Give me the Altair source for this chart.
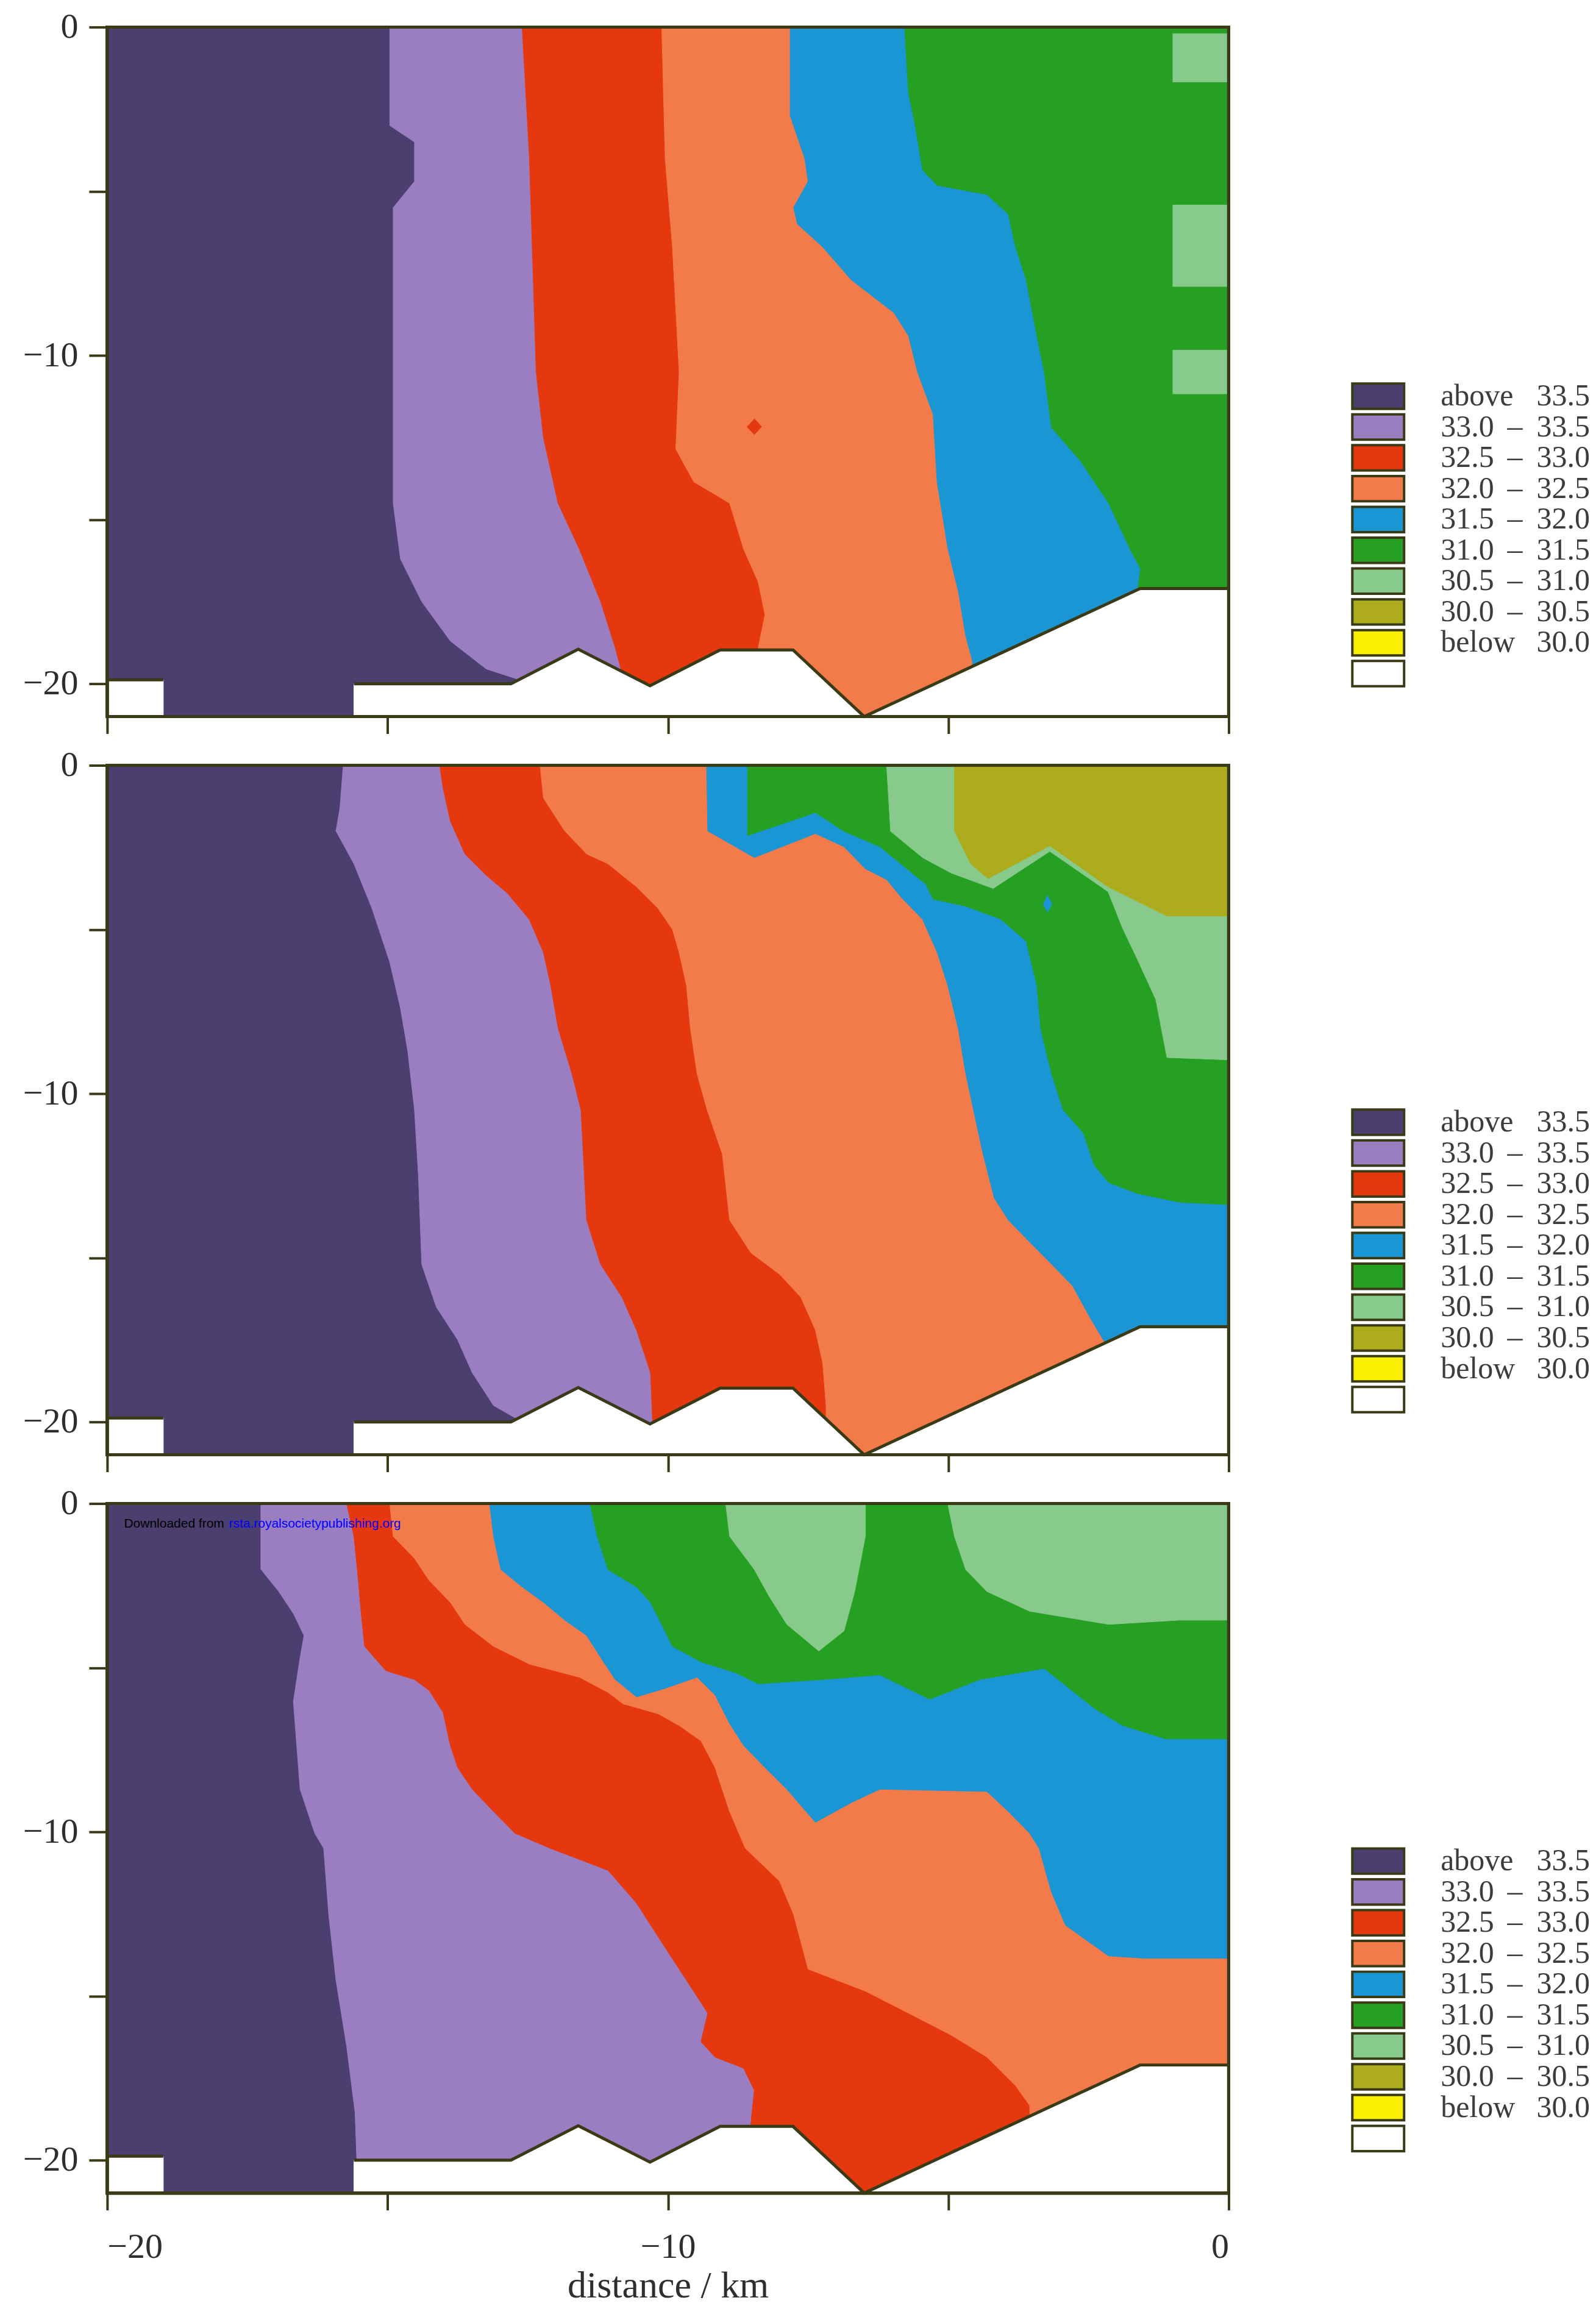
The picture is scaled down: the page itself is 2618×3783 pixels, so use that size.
import altair as alt
import pandas as pd

# ---------------- data ----------------
X_DOMAIN = [-20, 0]
Y_DOMAIN = [-21, 0]
X_TICKS = [-20, -15, -10, -5, 0]
Y_TICKS = [0, -5, -10, -15, -20]

LEG_LEFT = ["above", "33.0", "32.5", "32.0", "31.5", "31.0", "30.5", "30.0", "below", ""]
LEG_DASH = ["", "–", "–", "–", "–", "–", "–", "–", "", ""]
LEG_RIGHT = ["33.5", "33.5", "33.0", "32.5", "32.0", "31.5", "31.0", "30.5", "30.0", ""]

# zone boundaries (x km, depth) from the surface downwards
P1_A = [(-14.96, 0), (-14.96, -3.0), (-14.52, -3.5), (-14.52, -4.7), (-14.9, -5.5), (-14.9, -14.5),
        (-14.77, -16.2), (-14.39, -17.5), (-13.88, -18.7), (-13.24, -19.55), (-12.7, -19.85), (-12.7, -21)]
P1_B = [(-12.6, 0), (-12.47, -4.0), (-12.35, -10.5), (-12.22, -12.5), (-11.96, -14.5), (-11.58, -15.9),
        (-11.2, -17.5), (-10.94, -18.9), (-10.8, -19.8), (-10.8, -21)]
P1_C = [(-10.11, 0), (-10.05, -4.0), (-9.92, -6.7), (-9.8, -10.5), (-9.86, -12.85), (-9.54, -13.85),
        (-8.9, -14.5), (-8.65, -15.9), (-8.39, -16.9), (-8.27, -17.9), (-8.39, -18.9), (-8.39, -21)]
P1_D = [(-7.82, 0), (-7.82, -2.7), (-7.56, -4.0), (-7.5, -4.7), (-7.76, -5.5), (-7.69, -6.0), (-7.24, -6.7),
        (-6.73, -7.7), (-5.97, -8.7), (-5.71, -9.4), (-5.55, -10.5), (-5.27, -11.8), (-5.2, -13.85),
        (-5.01, -15.86), (-4.82, -17.2), (-4.69, -18.54), (-4.57, -19.3), (-4.57, -21)]
P1_E = [(-5.78, 0), (-5.71, -2.0), (-5.59, -3.0), (-5.46, -4.35), (-5.2, -4.82), (-4.31, -5.1), (-3.93, -5.7),
        (-3.8, -6.7), (-3.61, -7.7), (-3.42, -9.4), (-3.29, -10.5), (-3.16, -12.2), (-2.65, -13.2),
        (-2.14, -14.5), (-1.76, -15.9), (-1.57, -16.5), (-1.63, -17.2), (-1.63, -21)]
P1_L1 = [(-1.0, -0.2), (0, -0.2), (0, -1.67), (-1.0, -1.67)]
P1_L2 = [(-1.0, -5.42), (0, -5.42), (0, -7.9), (-1.0, -7.9)]
P1_L3 = [(-1.0, -9.84), (0, -9.84), (0, -11.17), (-1.0, -11.17)]
P1_DOT = [(-8.46, -11.93), (-8.33, -12.17), (-8.46, -12.41), (-8.59, -12.17)]

P2_A = [(-15.79, 0), (-15.85, -1.3), (-15.92, -2.0), (-15.6, -3.0), (-15.28, -4.35), (-14.96, -6.0),
        (-14.77, -7.4), (-14.64, -8.7), (-14.52, -10.5), (-14.45, -12.5), (-14.39, -15.2), (-14.13, -16.5),
        (-13.75, -17.5), (-13.49, -18.5), (-13.11, -19.5), (-12.7, -19.9), (-12.7, -21)]
P2_B = [(-14.07, 0), (-14.01, -0.7), (-13.88, -1.7), (-13.62, -2.7), (-13.24, -3.35), (-12.86, -3.9),
        (-12.47, -4.7), (-12.22, -5.7), (-12.09, -6.7), (-11.96, -8.0), (-11.71, -9.4), (-11.55, -10.5),
        (-11.45, -13.85), (-11.2, -15.2), (-10.82, -16.2), (-10.56, -17.2), (-10.31, -18.5), (-10.25, -21)]
P2_C = [(-12.28, 0), (-12.22, -1.0), (-11.84, -2.0), (-11.45, -2.7), (-11.07, -3.0), (-10.56, -3.7),
        (-10.18, -4.35), (-9.92, -5.0), (-9.8, -5.7), (-9.67, -6.7), (-9.6, -8.0), (-9.48, -9.4), (-9.3, -10.5),
        (-9.03, -11.84), (-8.9, -13.85), (-8.52, -14.85), (-8.01, -15.5), (-7.63, -16.2), (-7.37, -17.2),
        (-7.24, -18.2), (-7.18, -19.5), (-7.18, -21)]
P2_D = [(-9.31, 0), (-9.29, -2.0), (-8.46, -2.81), (-7.37, -2.08), (-6.86, -2.48), (-6.48, -3.15),
        (-6.1, -3.48), (-5.84, -4.02), (-5.46, -4.69), (-5.2, -5.69), (-5.01, -6.7), (-4.82, -8.04),
        (-4.69, -9.38), (-4.55, -10.5), (-4.38, -11.84), (-4.18, -13.18), (-3.93, -13.85), (-3.55, -14.52),
        (-3.16, -15.19), (-2.78, -15.86), (-2.46, -16.86), (-2.2, -17.6), (-2.2, -21)]
P2_E = [(-8.58, 0), (-8.58, -2.14), (-7.37, -1.44), (-6.86, -2.01), (-6.22, -2.48), (-5.84, -3.01),
        (-5.4, -3.62), (-5.27, -4.08), (-4.69, -4.29), (-4.06, -4.69), (-3.61, -5.36), (-3.42, -6.7),
        (-3.35, -8.04), (-3.16, -9.38), (-2.95, -10.5), (-2.59, -11.2), (-2.4, -12.17), (-2.14, -12.71),
        (-1.63, -13.04), (-0.87, -13.31), (0, -13.38)]
P2_F = [(-6.1, 0), (-6.03, -2.01), (-5.46, -2.81), (-4.95, -3.28), (-4.2, -3.75), (-3.19, -2.62),
        (-2.15, -3.85), (-1.89, -4.97), (-1.63, -5.9), (-1.3, -7.13), (-1.1, -8.9), (0, -8.97)]
P2_G = [(-4.89, 0), (-4.89, -2.0), (-4.6, -3.0), (-4.29, -3.45), (-3.19, -2.45), (-2.15, -3.7),
        (-1.1, -4.59), (0, -4.59)]
P2_DOT = [(-3.23, -3.97), (-3.15, -4.22), (-3.23, -4.47), (-3.31, -4.22)]

P3_A = [(-17.26, 0), (-17.26, -2.0), (-16.94, -2.68), (-16.68, -3.35), (-16.49, -4.02), (-16.56, -4.69),
        (-16.68, -6.03), (-16.62, -7.37), (-16.56, -8.7), (-16.3, -10.04), (-16.14, -10.5), (-16.05, -12.51),
        (-15.92, -14.52), (-15.73, -16.53), (-15.58, -18.54), (-15.55, -19.95), (-15.55, -21)]
P3_B = [(-15.73, 0), (-15.6, -1.0), (-15.54, -2.01), (-15.47, -3.35), (-15.41, -4.35), (-15.03, -5.09),
        (-14.52, -5.36), (-14.26, -5.69), (-14.01, -6.36), (-13.88, -7.37), (-13.75, -8.04), (-13.49, -8.7),
        (-13.11, -9.38), (-12.73, -10.04), (-12.1, -10.5), (-11.07, -11.17), (-10.56, -12.17), (-10.18, -13.18),
        (-9.67, -14.52), (-9.29, -15.52), (-9.41, -16.39), (-9.16, -16.86), (-8.65, -17.2), (-8.46, -17.87),
        (-8.52, -18.87), (-8.52, -21)]
P3_C = [(-14.96, 0), (-14.9, -1.0), (-14.52, -1.67), (-14.26, -2.34), (-13.88, -3.01), (-13.62, -3.68),
        (-13.11, -4.35), (-12.47, -4.89), (-11.58, -5.29), (-11.07, -5.75), (-10.8, -6.1), (-10.18, -6.4),
        (-9.8, -6.76), (-9.41, -7.23), (-9.16, -8.04), (-8.9, -9.38), (-8.62, -10.5), (-8.01, -11.5),
        (-7.76, -12.51), (-7.5, -14.18), (-6.48, -14.85), (-5.71, -15.52), (-4.95, -16.19), (-4.31, -16.86),
        (-3.8, -17.73), (-3.55, -18.33), (-3.5, -21)]
P3_D = [(-13.18, 0), (-13.11, -1.0), (-12.98, -2.01), (-12.6, -2.54), (-12.22, -3.01), (-11.84, -3.55),
        (-11.45, -4.02), (-11.2, -4.69), (-10.94, -5.36), (-10.56, -5.89), (-10.05, -5.63), (-9.48, -5.29),
        (-9.16, -5.83), (-8.9, -6.7), (-8.65, -7.37), (-8.27, -8.04), (-7.88, -8.7), (-7.37, -9.71),
        (-6.73, -9.11), (-6.22, -8.7), (-4.31, -8.77), (-3.93, -9.38), (-3.55, -10.04), (-3.38, -10.5),
        (-3.16, -11.84), (-2.91, -12.84), (-2.53, -13.31), (-2.14, -13.78), (-1.5, -13.85), (0, -13.85)]
P3_E = [(-11.39, 0), (-11.26, -1.0), (-11.07, -2.01), (-10.56, -2.54), (-10.31, -3.01), (-10.11, -3.68),
        (-9.92, -4.35), (-9.41, -4.82), (-8.78, -5.16), (-8.39, -5.49), (-7.24, -5.36), (-6.22, -5.22),
        (-5.33, -5.96), (-4.44, -5.36), (-3.29, -5.02), (-2.4, -6.23), (-1.89, -6.76), (-1.12, -7.17), (0, -7.17)]
P3_L1 = [(-8.97, 0), (-8.9, -1.0), (-8.46, -2.01), (-8.2, -2.81), (-7.88, -3.68), (-7.31, -4.49),
         (-6.86, -3.88), (-6.67, -2.68), (-6.48, -1.0), (-6.48, 0)]
P3_L2 = [(-5.01, 0), (-4.89, -1.0), (-4.69, -2.01), (-4.31, -2.68), (-3.55, -3.28), (-2.14, -3.68),
         (-0.87, -3.55), (0, -3.55)]

# sea bed (same in every section)
BATH = [(-15.6, -21), (-15.6, -20.0), (-12.8, -20.0), (-11.6, -18.95), (-10.32, -20.06), (-9.07, -18.97),
        (-7.77, -18.97), (-6.5, -21), (-1.58, -17.1), (0, -17.1), (0, -21)]
BATH_SMALL = [(-20, -19.88), (-19.0, -19.88), (-19.0, -21), (-20, -21)]

WM_X = [-19.7, -17.83]
WM_Y = [-0.63, -0.63]
WM_TEXT = ["Downloaded from", "rsta.royalsocietypublishing.org"]

# ---------------- styling ----------------
ZONE_COLORS = ["#4b3f6f", "#9b7ec2", "#e5380e", "#f27b49", "#1b96d4", "#26a023",
               "#88c98c", "#adac1d", "#f8f000", "#ffffff"]
FRAME = "#3b3a17"
SERIF = "Liberation Serif"
TXT = "#2e2e2e"
W, H = 1841, 1132
ROW_PITCH = 50.6
LEGEND_ROW0 = {1: 606, 2: 586, 3: 587}


def right_of(boundary):
    pts = list(boundary)
    if pts[-1][1] == Y_DOMAIN[0]:
        pts.append((X_DOMAIN[1], Y_DOMAIN[0]))
    pts.append((X_DOMAIN[1], Y_DOMAIN[1]))
    return pts


def frame_poly():
    return [(X_DOMAIN[0], Y_DOMAIN[1]), (X_DOMAIN[1], Y_DOMAIN[1]),
            (X_DOMAIN[1], Y_DOMAIN[0]), (X_DOMAIN[0], Y_DOMAIN[0])]


def pdf(pts):
    return pd.DataFrame({"x": [p[0] for p in pts], "y": [p[1] for p in pts], "i": list(range(len(pts)))})


def enc(panel):
    last = panel == 3
    xaxis = alt.Axis(values=X_TICKS, labels=last, labelExpr="datum.value % 10 === 0 ? datum.label : ''",
                     grid=False, domain=False, tickSize=28, tickWidth=4, tickColor=FRAME,
                     labelFont=SERIF, labelFontSize=58, labelColor=TXT, labelPadding=32,
                     titleFont=SERIF, titleFontSize=62, titleFontWeight="normal", titleColor=TXT,
                     titlePadding=4)
    yaxis = alt.Axis(values=Y_TICKS, labelExpr="datum.value % 10 === 0 ? datum.label : ''",
                     grid=False, domain=False, tickSize=30, tickWidth=4, tickColor=FRAME,
                     labelFont=SERIF, labelFontSize=58, labelColor=TXT, labelPadding=18)
    x = alt.X("x:Q", scale=alt.Scale(domain=X_DOMAIN, nice=False, zero=False), axis=xaxis,
              title=("distance / km" if last else None))
    y = alt.Y("y:Q", scale=alt.Scale(domain=Y_DOMAIN, nice=False, zero=False), axis=yaxis, title=None)
    return x, y


def poly_layer(pts, color, panel):
    x, y = enc(panel)
    return alt.Chart(pdf(pts)).mark_line(fill=color, stroke=color, strokeWidth=1, strokeJoin="round").encode(
        x=x, y=y, order=alt.Order("i:Q"))


def line_layer(pts, panel):
    x, y = enc(panel)
    return alt.Chart(pdf(pts)).mark_line(stroke=FRAME, strokeWidth=5, strokeJoin="miter").encode(
        x=x, y=y, order=alt.Order("i:Q"))


PANELS = {
    1: [(0, frame_poly()), (1, right_of(P1_A)), (2, right_of(P1_B)), (3, right_of(P1_C)),
        (4, right_of(P1_D)), (5, right_of(P1_E)), (6, P1_L1), (6, P1_L2), (6, P1_L3), (2, P1_DOT)],
    2: [(0, frame_poly()), (1, right_of(P2_A)), (2, right_of(P2_B)), (3, right_of(P2_C)),
        (4, right_of(P2_D)), (5, right_of(P2_E)), (6, right_of(P2_F)), (7, right_of(P2_G)), (4, P2_DOT)],
    3: [(0, frame_poly()), (1, right_of(P3_A)), (2, right_of(P3_B)), (3, right_of(P3_C)),
        (4, right_of(P3_D)), (5, right_of(P3_E)), (6, P3_L1), (6, right_of(P3_L2))],
}


def panel_chart(panel):
    layers = [poly_layer(pts, ZONE_COLORS[ci], panel) for ci, pts in PANELS[panel]]
    layers.append(poly_layer(BATH, "#ffffff", panel))
    layers.append(poly_layer(BATH_SMALL, "#ffffff", panel))
    layers.append(line_layer(BATH[1:10], panel))
    layers.append(line_layer(BATH_SMALL[0:2], panel))
    if panel == 3:
        x, y = enc(panel)
        wm = pd.DataFrame({"x": WM_X, "y": WM_Y, "t": WM_TEXT})
        layers.append(alt.Chart(wm.iloc[[0]]).mark_text(align="left", baseline="middle", font="Liberation Sans",
                                                         fontSize=21, color="#000000").encode(x=x, y=y, text="t:N"))
        layers.append(alt.Chart(wm.iloc[[1]]).mark_text(align="left", baseline="middle", font="Liberation Sans",
                                                         fontSize=21, color="#0000ff").encode(x=x, y=y, text="t:N"))
    layers.append(alt.Chart(pdf(frame_poly())).mark_rect(filled=False, stroke=FRAME, strokeWidth=5).encode(
        x=alt.value(0), x2=alt.value("width"), y=alt.value(0), y2=alt.value("height")))
    return alt.layer(*layers).properties(width=W, height=H)


def legend_chart(panel):
    df = pd.DataFrame({"row": list(range(len(LEG_LEFT))), "left": LEG_LEFT, "dash": LEG_DASH,
                       "right": LEG_RIGHT, "c": ZONE_COLORS})
    a = -LEGEND_ROW0[panel] / ROW_PITCH
    b = a + H / ROW_PITCH
    ysc = alt.Scale(domain=[a, b], reverse=True, nice=False, zero=False)
    base = alt.Chart(df)
    rects = base.transform_calculate(y0="datum.row - 0.41", y1="datum.row + 0.41").mark_rect(
        stroke=FRAME, strokeWidth=4).encode(
        x=alt.value(20), x2=alt.value(105),
        y=alt.Y("y0:Q", scale=ysc, axis=None), y2="y1:Q",
        fill=alt.Fill("c:N", scale=None))
    tstyle = dict(font=SERIF, fontSize=50, color="#3c3c3c", baseline="middle")
    left = base.mark_text(align="left", **tstyle).encode(
        x=alt.value(165), y=alt.Y("row:Q", scale=ysc, axis=None), text="left:N")
    dash = base.mark_text(align="center", **tstyle).encode(
        x=alt.value(287), y=alt.Y("row:Q", scale=ysc, axis=None), text="dash:N")
    right = base.mark_text(align="right", **tstyle).encode(
        x=alt.value(410), y=alt.Y("row:Q", scale=ysc, axis=None), text="right:N")
    return alt.layer(rects, left, dash, right).properties(width=412, height=H)


cells = []
for p in (1, 2, 3):
    cells.append(panel_chart(p))
    cells.append(legend_chart(p))

chart = alt.concat(*cells, columns=2, spacing={"row": 80, "column": 183}, bounds="flush").properties(
    padding={"left": 29, "top": 6, "right": 0, "bottom": 0}, background="#ffffff"
).configure_view(stroke=None)

chart.save("out.html", embed_options={"renderer": "svg", "actions": False})
